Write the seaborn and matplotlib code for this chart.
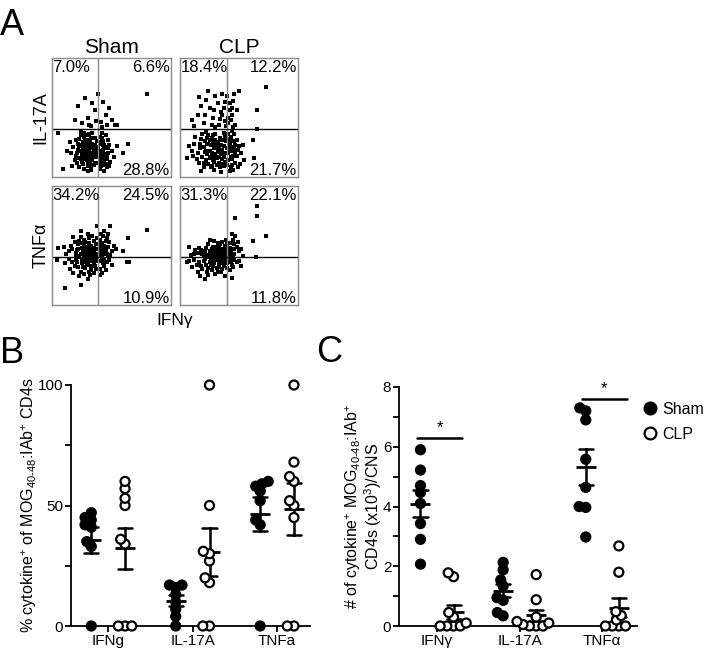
import seaborn as sns
import pandas as pd
import numpy as np
import matplotlib.pyplot as plt
import matplotlib.ticker as ticker
from matplotlib.lines import Line2D

# ---------------- panel A: flow plots, (x, y) in % of the plot box ----------------
sham_il17a = [
    (30,22),(27,20),(33,25),(25,27),(31,17),(35,21),(22,23),(28,30),(34,14),(24,15),
    (29,26),(32,29),(26,11),(36,27),(20,18),(23,32),(37,17),(30,9),(27,34),(33,33),
    (18,25),(21,12),(35,10),(31,36),(25,21),(29,14),(36,33),(16,20),(24,35),(32,19),
    (28,17),(34,24),(26,24),(30,28),(22,28),(19,14),(37,22),(27,7),(33,6),(23,8),
    (15,29),(38,30),(31,31),(25,18),(29,35),(21,20),(35,17),(26,29),(32,12),(28,25),
    (13,22),(17,9),(34,37),(24,38),(36,12),(20,31),(30,5),(27,37),(33,20),(26,15),
    (29,19),(31,23),(27,24),(33,16),(25,13),(30,12),(34,28),(28,21),(23,26),(32,26),
    (26,19),(35,24),(31,14),(24,22),(36,19),(29,31),(22,16),(33,9),(27,28),(37,25),
    (40,22),(43,18),(41,28),(45,25),(39,12),(44,10),(42,33),(47,20),(40,7),(46,15),
    (41,18),(43,30),(48,27),(39,25),(45,35),(42,13),(50,22),(40,34),(44,5),(47,31),
    (41,9),(52,17),(43,23),(46,8),(39,19),(49,13),(42,37),(45,19),(55,26),(40,15),
    (44,27),(48,9),(42,21),(44,24),(41,12),(46,18),(43,27),(40,29),(45,11),(42,16),
    (47,24),(44,14),
    (25,45),(30,50),(22,60),(33,43),(28,66),(36,56),(19,48),(34,62),(31,44),(37,47),
    (41,46),(45,52),(43,63),(50,48),(39,70),(55,44),(48,58),(80,70),(42,42),(46,44),
    (5,37),(9,7),(60,20),(64,28),(53,44),
]
clp_il17a = [
    (25,22),(30,18),(20,25),(35,27),(28,30),(15,20),(33,12),(22,14),(38,20),(18,32),
    (27,9),(31,25),(24,35),(36,15),(12,28),(29,6),(34,33),(19,17),(26,27),(37,9),
    (16,12),(32,21),(23,19),(39,30),(21,30),(10,22),(30,36),(35,4),(17,24),(28,14),
    (13,34),(33,17),(25,31),(37,37),(20,8),(31,10),(26,17),(14,15),(36,23),(22,38),
    (29,24),(8,26),(34,8),(24,11),(19,36),(38,13),(27,33),(11,18),(32,29),(6,16),
    (23,28),(35,19),(18,5),(30,31),(21,21),(37,26),
    (27,20),(32,24),(29,13),(24,28),(35,11),(30,28),(22,22),(36,31),(26,8),(33,26),
    (20,12),(31,16),(28,35),(34,22),(25,16),(38,34),(23,33),(17,28),(37,17),(29,19),
    (41,20),(44,15),(42,28),(46,24),(40,10),(48,18),(43,34),(45,6),(50,26),(41,36),
    (47,12),(44,30),(52,20),(40,24),(49,8),(43,17),(46,36),(54,14),(42,5),(48,31),
    (45,22),(51,11),(40,32),(53,27),(62,31),(63,16),(44,39),(47,27),
    (42,22),(45,18),(43,25),(41,14),(47,21),(44,10),(46,30),(43,8),(49,23),(42,31),
    (20,45),(28,50),(35,55),(15,52),(32,62),(25,58),(38,47),(10,48),(30,68),(22,65),
    (36,70),(18,60),(27,44),(33,44),(12,43),(24,72),(38,63),(29,56),(16,67),(34,49),
    (37,58),(21,52),(30,42),(36,52),
    (41,45),(44,52),(42,62),(46,70),(40,68),(48,56),(43,48),(45,64),(50,72),(42,56),
    (47,44),(65,56),(73,76),(65,40),(41,50),(44,58),(39,43),(45,42),
]
sham_tnfa = [
    (30,45),(25,48),(33,50),(20,44),(28,53),(36,47),(22,51),(31,56),(17,47),(35,54),
    (27,42),(24,57),(38,43),(19,53),(32,42),(29,49),(14,45),(34,58),(26,45),(37,51),
    (21,41),(30,60),(23,54),(36,42),(16,50),(28,46),(33,46),(25,52),(12,43),(31,52),
    (18,57),(35,44),(27,55),(38,56),(22,47),(29,43),(10,49),(24,62),
    (28,41),(32,44),(30,47),(34,41),(24,43),(27,50),(31,40),(35,48),(21,46),(32,48),
    (27,45),(20,40),
    (30,37),(25,35),(33,33),(20,38),(28,31),(35,36),(22,32),(31,28),(17,36),(37,30),
    (26,38),(24,28),(34,39),(19,33),(29,34),(14,39),(32,25),(27,26),(36,33),(21,36),
    (15,30),(30,22),(23,24),(38,37),(26,32),(33,29),(18,27),(11,35),(28,36),(35,27),
    (24,17),(11,14),(4,38),(5,48),(26,39),(29,38),(33,37),(23,40),(25,37),(36,39),
    (30,35),(38,40),
    (41,45),(44,50),(40,55),(46,43),(42,48),(48,53),(43,58),(45,46),(40,42),(47,49),
    (50,45),(42,52),(44,62),(39,47),(46,56),(52,50),(41,60),(49,42),(43,44),(45,54),
    (54,47),(40,50),(47,60),(60,45),(64,56),(80,63),(38,66),(49,66),
    (41,43),(43,47),(40,48),(45,43),(42,45),(47,41),(41,52),
    (41,37),(44,33),(40,30),(46,36),(42,27),(48,38),(43,35),(45,29),(50,34),(40,25),
    (63,36),(65,36),(42,40),(44,38),(43,39),
]
clp_tnfa = [
    (30,43),(25,45),(34,47),(20,42),(28,49),(36,44),(22,48),(32,52),(15,44),(38,50),
    (27,41),(24,51),(35,42),(18,46),(31,46),(12,43),(29,54),(37,47),(26,44),(33,50),
    (21,45),(9,42),(30,48),(23,42),(36,53),(16,48),(28,45),(34,44),(25,55),(38,45),
    (19,43),(32,42),(27,47),(13,46),(8,49),
    (31,41),(33,43),(27,43),(36,42),(30,45),(33,47),(35,45),(31,49),(38,42),(34,51),
    (38,47),(39,41),
    (30,38),(25,36),(33,35),(20,37),(28,33),(35,37),(22,34),(31,31),(16,36),(37,33),
    (26,39),(24,31),(34,39),(18,33),(29,36),(12,38),(32,28),(27,29),(36,30),(21,39),
    (14,34),(30,26),(23,28),(38,36),(26,34),(33,32),(19,30),(8,37),(28,38),(35,28),
    (10,32),(17,24),(21,22),(38,24),(6,36),(15,28),(24,25),
    (29,40),(35,40),(32,38),(34,36),(28,39),(37,39),(25,41),(29,35),(26,38),(23,40),
    (39,38),(36,35),
    (41,44),(44,47),(40,50),(46,43),(42,52),(48,49),(43,42),(45,55),(40,46),(47,58),
    (50,45),(42,48),(44,60),(39,55),(46,51),(52,47),(41,42),(49,53),(43,45),(53,41),
    (62,54),(73,58),(47,73),(65,75),(65,83),
    (43,43),(44,41),(40,44),(42,46),(46,47),(40,52),
    (41,37),(44,34),(40,31),(46,38),(42,29),(48,36),(43,38),(45,32),(50,37),(40,35),
    (64,40),(44,23),(52,33),(41,40),(42,39),(45,40),(41,38),(43,36),
]
# quadrant percentages: upper-left, upper-right, lower-right
pct_sham_il17a = ['7.0%', '6.6%', '28.8%']
pct_clp_il17a = ['18.4%', '12.2%', '21.7%']
pct_sham_tnfa = ['34.2%', '24.5%', '10.9%']
pct_clp_tnfa = ['31.3%', '22.1%', '11.8%']

# ---------------- panel B: % cytokine+ ----------------
cats_b = ['IFNg', 'IL-17A', 'TNFa']
b_sham_ifng = [0, 33, 35, 41, 42, 44, 45, 47]
b_clp_ifng = [0, 0, 0, 34, 36, 50, 53, 57, 60]
b_sham_il17a = [0, 4, 7, 10, 13, 16, 17, 17]
b_clp_il17a = [0, 0, 18, 20, 27, 30, 31, 50, 100]
b_sham_tnfa = [0, 42, 44, 52, 56, 58, 59, 60]
b_clp_tnfa = [0, 0, 45, 50, 52, 60, 62, 68, 100]

# ---------------- panel C: # cytokine+ (x10^3)/CNS ----------------
cats_c = ['IFNγ', 'IL-17A', 'TNFα']
c_sham_ifng = [2.07, 2.9, 3.43, 4.1, 4.47, 4.7, 5.22, 5.9]
c_clp_ifng = [0, 0, 0, 0, 0.1, 0.3, 0.45, 1.65, 1.78]
c_sham_il17a = [0.34, 0.45, 0.86, 0.95, 1.34, 1.54, 1.88, 2.13]
c_clp_il17a = [0, 0, 0, 0.05, 0.1, 0.15, 0.3, 0.88, 1.72]
c_sham_tnfa = [2.98, 3.97, 4.0, 4.64, 5.58, 6.9, 7.2, 7.3]
c_clp_tnfa = [0, 0, 0, 0, 0.2, 0.35, 0.48, 1.8, 2.68]

groups = ['Sham', 'CLP']
DOT = 6.5        # drawn marker size (pt)
SWARM_DOT = 3.0  # footprint used for the swarm layout, so dots overlap a bit like prism


def long_table(cats, sham_lists, clp_lists):
    rows = []
    for cat, s, c in zip(cats, sham_lists, clp_lists):
        rows += [(cat, 'Sham', v) for v in s]
        rows += [(cat, 'CLP', v) for v in c]
    return pd.DataFrame(rows, columns=['cytokine', 'group', 'value'])


sns.set_style('ticks')
plt.rcParams['font.family'] = ['Liberation Sans', 'DejaVu Sans']
plt.rcParams['mathtext.fontset'] = 'custom'
plt.rcParams['mathtext.rm'] = 'Liberation Sans'
plt.rcParams['mathtext.it'] = 'Liberation Sans:italic'
plt.rcParams['mathtext.bf'] = 'Liberation Sans:bold'
plt.rcParams['mathtext.default'] = 'regular'
for k in ['text.color', 'axes.labelcolor', 'xtick.color', 'ytick.color', 'axes.edgecolor']:
    plt.rcParams[k] = 'black'

fig = plt.figure(figsize=(7.07, 6.53), dpi=100)


def flowplot(rect, pts, pcts, xgate, ygate):
    ax = fig.add_axes(rect)
    xy = np.array(pts)
    sns.scatterplot(x=xy[:, 0], y=xy[:, 1], marker='s', s=5, color='black',
                    linewidth=0, legend=False, ax=ax)
    ax.axvline(xgate, color='#8c8c8c', lw=1)
    ax.axhline(ygate, color='black', lw=1)
    ax.set_xlim(0, 100)
    ax.set_ylim(0, 100)
    ax.set_xticks([])
    ax.set_yticks([])
    for sp in ax.spines.values():
        sp.set_visible(True)
        sp.set_color('#8c8c8c')
        sp.set_linewidth(1)
    ax.text(0.005, 0.985, pcts[0], transform=ax.transAxes, ha='left', va='top', fontsize=12)
    ax.text(0.99, 0.985, pcts[1], transform=ax.transAxes, ha='right', va='top', fontsize=12)
    ax.text(0.99, 0.015, pcts[2], transform=ax.transAxes, ha='right', va='baseline', fontsize=12)
    return ax


w1, w2, h = 119 / 707, 118 / 707, 119 / 653
ax_a1 = flowplot([52 / 707, 1 - 177 / 653, w1, h], sham_il17a, pct_sham_il17a, 38.7, 40.3)
ax_a2 = flowplot([180 / 707, 1 - 177 / 653, w2, h], clp_il17a, pct_clp_il17a, 40, 40.3)
ax_a3 = flowplot([52 / 707, 1 - 305 / 653, w1, h], sham_tnfa, pct_sham_tnfa, 38.7, 40.3)
ax_a4 = flowplot([180 / 707, 1 - 305 / 653, w2, h], clp_tnfa, pct_clp_tnfa, 40, 40.3)
ax_a1.set_title('Sham', fontsize=15, pad=3.5)
ax_a2.set_title('CLP', fontsize=15, pad=3.5)
ax_a1.set_ylabel('IL-17A', fontsize=13, labelpad=2)
ax_a3.set_ylabel('TNFα', fontsize=13, labelpad=2)
fig.text(175 / 707, 1 - 325 / 653, 'IFNγ', ha='center', va='baseline', fontsize=12.5)


def dotplot(ax, df, order):
    sns.swarmplot(data=df, x='cytokine', y='value', hue='group', order=order,
                  hue_order=groups, palette={'Sham': 'black', 'CLP': 'white'},
                  dodge=True, size=SWARM_DOT, edgecolor='black', linewidth=1.6,
                  legend=False, ax=ax)
    for c in ax.collections:
        c.set_clip_on(False)
    sns.pointplot(data=df, x='cytokine', y='value', hue='group', order=order,
                  hue_order=groups, palette={'Sham': 'black', 'CLP': 'black'},
                  markers='_', linestyles='none', dodge=0.4, errorbar='se',
                  capsize=0.17, markersize=15, markeredgewidth=2,
                  err_kws={'linewidth': 1.8, 'linestyle': '-'}, legend=False, ax=ax)
    sns.despine(ax=ax)
    ax.set_xlabel('')
    ax.tick_params(axis='both', which='major', labelsize=11, length=4, width=1.3,
                   direction='out', pad=1.5)
    ax.tick_params(axis='y', which='minor', length=4, width=1.3, direction='out')
    for sp in ['left', 'bottom']:
        ax.spines[sp].set_linewidth(1.3)


# ---------------- panel B ----------------
df_b = long_table(cats_b, [b_sham_ifng, b_sham_il17a, b_sham_tnfa],
                  [b_clp_ifng, b_clp_il17a, b_clp_tnfa])
ax_b = fig.add_axes([71 / 707, 1 - 626 / 653, 239 / 707, 241 / 653])
dotplot(ax_b, df_b, cats_b)
ax_b.set_ylim(0, 100)
ax_b.set_xlim(-0.44, 2.39)
ax_b.set_yticks([0, 50, 100])
ax_b.yaxis.set_minor_locator(ticker.FixedLocator([25, 75]))
ax_b.set_ylabel(r'% cytokine$^{+}$ of MOG$_{40\text{-}48}$:IAb$^{+}$ CD4s', fontsize=11.5)
ax_b.yaxis.set_label_coords(-0.135, 0.5)

# ---------------- panel C ----------------
df_c = long_table(cats_c, [c_sham_ifng, c_sham_il17a, c_sham_tnfa],
                  [c_clp_ifng, c_clp_il17a, c_clp_tnfa])
ax_c = fig.add_axes([399 / 707, 1 - 626 / 653, 238 / 707, 239 / 653])
dotplot(ax_c, df_c, cats_c)
ax_c.set_ylim(0, 8)
ax_c.set_xlim(-0.46, 2.42)
ax_c.set_yticks([0, 2, 4, 6, 8])
ax_c.yaxis.set_minor_locator(ticker.FixedLocator([1, 3, 5, 7]))
ax_c.set_ylabel('# of cytokine$^{+}$ MOG$_{40\\text{-}48}$:IAb$^{+}$\nCD4s (x10$^{3}$)/CNS',
                fontsize=11.5, linespacing=0.95)
ax_c.yaxis.set_label_coords(-0.065, 0.5)
# significance bars
for x0, x1, yb in [(-0.24, 0.30, 6.3), (1.75, 2.30, 7.6)]:
    ax_c.plot([x0, x1], [yb, yb], color='black', lw=1.8, clip_on=False)
    ax_c.text((x0 + x1) / 2, yb + 0.1, '*', ha='center', va='bottom', fontsize=12)

handles = [Line2D([], [], marker='o', ls='none', color='black', markerfacecolor='black',
                  markersize=8.5, markeredgewidth=1.6),
           Line2D([], [], marker='o', ls='none', color='black', markerfacecolor='white',
                  markersize=8.5, markeredgewidth=1.6)]
fig.legend(handles, groups, loc='upper left', bbox_to_anchor=(644 / 707, 1 - 402 / 653),
           frameon=False, fontsize=11.5, handlelength=0.8, handletextpad=0.35,
           labelspacing=0.6, borderaxespad=0, borderpad=0)

# panel letters
fig.text(0.0, 1 - 8 / 653, 'A', ha='left', va='top', fontsize=26)
fig.text(0.0, 1 - 336 / 653, 'B', ha='left', va='top', fontsize=26)
fig.text(316 / 707, 1 - 335 / 653, 'C', ha='left', va='top', fontsize=26)

# lay the swarms out with the small footprint, then draw the dots full size
fig.canvas.draw()
for ax in [ax_b, ax_c]:
    for c in ax.collections:
        if 'draw' in c.__dict__:
            del c.draw
        c.set_sizes([DOT ** 2])

fig.savefig('out.png', dpi=100)
plt.close(fig)
